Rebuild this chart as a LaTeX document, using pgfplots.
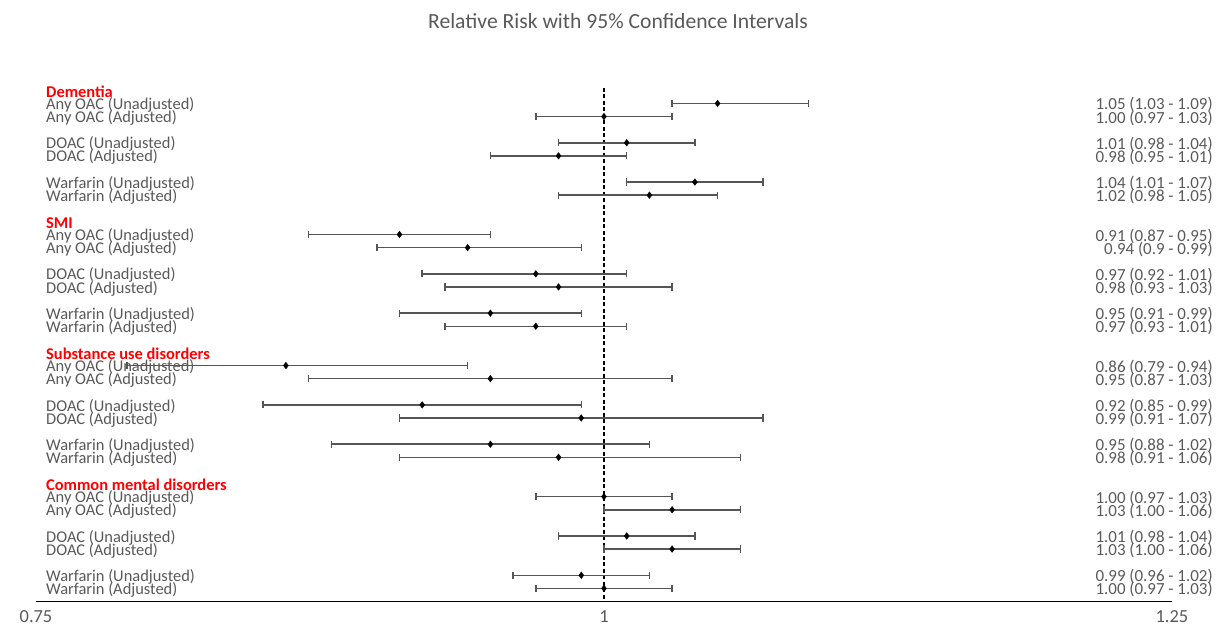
\documentclass[border=0pt]{standalone}
\usepackage{pgfplots}
\usepackage{pgfplotstable}
\pgfplotsset{compat=1.18}
\usepackage{fontspec}
\setmainfont{Carlito}
\definecolor{txtgray}{HTML}{595959}
\definecolor{bargray}{HTML}{555555}
\tikzset{
  lab/.style={font=\fontsize{16.5}{16}\selectfont, text=txtgray, inner sep=0pt, yshift=-1.5bp},
  rlab/.style={font=\fontsize{17}{16}\selectfont, text=txtgray, inner sep=0pt, yshift=-1.5bp},
  hdr/.style={font=\fontsize{16.5}{16}\selectfont\bfseries, text=red, inner sep=0pt},
}

\pgfplotstableread{
s rr lo hi
1 1.05 1.03 1.09
2 1.00 0.97 1.03
4 1.01 0.98 1.04
5 0.98 0.95 1.01
7 1.04 1.01 1.07
8 1.02 0.98 1.05
11 0.91 0.87 0.95
12 0.94 0.90 0.99
14 0.97 0.92 1.01
15 0.98 0.93 1.03
17 0.95 0.91 0.99
18 0.97 0.93 1.01
21 0.86 0.79 0.94
22 0.95 0.87 1.03
24 0.92 0.85 0.99
25 0.99 0.91 1.07
27 0.95 0.88 1.02
28 0.98 0.91 1.06
31 1.00 0.97 1.03
32 1.03 1.00 1.06
34 1.01 0.98 1.04
35 1.03 1.00 1.06
37 0.99 0.96 1.02
38 1.00 0.97 1.03
}\rrdata

\newcommand\Lab[2]{\node[lab,anchor=west] at (axis cs:0.7544,#1) {#2};}
\newcommand\Rab[2]{\node[rlab,anchor=east] at (axis cs:1.2680,#1) {#2};}
\newcommand\Hdr[2]{\node[hdr,anchor=west] at (axis cs:0.7544,#1) {#2};}

\begin{document}
\begin{tikzpicture}
\useasboundingbox (0,0) rectangle (1221bp,635bp);
\node[font=\fontsize{21.7}{24}\selectfont, text=txtgray] at (618bp,614bp) {Relative Risk with 95\% Confidence Intervals};
\begin{axis}[
  at={(36bp,33.5bp)}, anchor=south west,
  scale only axis, width=1136bp, height=513.8bp,
  xmin=0.75, xmax=1.25, ymin=-0.2, ymax=39, y dir=reverse,
  clip=false,
  hide y axis,
  axis x line*=bottom,
  x axis line style={-, black, line width=1.4bp},
  xtick={0.75,1,1.25}, xticklabels={0.75,1,1.25},
  major tick length=0pt,
  xticklabel style={font=\fontsize{18.5}{20}\selectfont, text=txtgray, yshift=-6bp},
  ytick=\empty,
]
\addplot[black, line width=1.4bp, dash pattern=on 4bp off 2.5bp] coordinates {(1,-0.2) (1,39)};
\addplot[only marks, mark=diamond*, mark size=3.3bp, black,
  error bars/.cd, x dir=both, x explicit,
  error bar style={bargray, line width=1.5bp},
  error mark options={bargray, line width=1.5bp, mark size=3.6bp, rotate=90}]
  table[x=rr, y=s, x error plus expr=\thisrow{hi}-\thisrow{rr}, x error minus expr=\thisrow{rr}-\thisrow{lo}] {\rrdata};

\Hdr{0.1}{Dementia}
\Lab{1}{Any OAC (Unadjusted)}
\Lab{2}{Any OAC (Adjusted)}
\Lab{4}{DOAC (Unadjusted)}
\Lab{5}{DOAC (Adjusted)}
\Lab{7}{Warfarin (Unadjusted)}
\Lab{8}{Warfarin (Adjusted)}
\Hdr{10.1}{SMI}
\Lab{11}{Any OAC (Unadjusted)}
\Lab{12}{Any OAC (Adjusted)}
\Lab{14}{DOAC (Unadjusted)}
\Lab{15}{DOAC (Adjusted)}
\Lab{17}{Warfarin (Unadjusted)}
\Lab{18}{Warfarin (Adjusted)}
\Hdr{20.1}{Substance use disorders}
\Lab{21}{Any OAC (Unadjusted)}
\Lab{22}{Any OAC (Adjusted)}
\Lab{24}{DOAC (Unadjusted)}
\Lab{25}{DOAC (Adjusted)}
\Lab{27}{Warfarin (Unadjusted)}
\Lab{28}{Warfarin (Adjusted)}
\Hdr{30.1}{Common mental disorders}
\Lab{31}{Any OAC (Unadjusted)}
\Lab{32}{Any OAC (Adjusted)}
\Lab{34}{DOAC (Unadjusted)}
\Lab{35}{DOAC (Adjusted)}
\Lab{37}{Warfarin (Unadjusted)}
\Lab{38}{Warfarin (Adjusted)}

\Rab{1}{1.05 (1.03 - 1.09)}
\Rab{2}{1.00 (0.97 - 1.03)}
\Rab{4}{1.01 (0.98 - 1.04)}
\Rab{5}{0.98 (0.95 - 1.01)}
\Rab{7}{1.04 (1.01 - 1.07)}
\Rab{8}{1.02 (0.98 - 1.05)}
\Rab{11}{0.91 (0.87 - 0.95)}
\Rab{12}{0.94 (0.9 - 0.99)}
\Rab{14}{0.97 (0.92 - 1.01)}
\Rab{15}{0.98 (0.93 - 1.03)}
\Rab{17}{0.95 (0.91 - 0.99)}
\Rab{18}{0.97 (0.93 - 1.01)}
\Rab{21}{0.86 (0.79 - 0.94)}
\Rab{22}{0.95 (0.87 - 1.03)}
\Rab{24}{0.92 (0.85 - 0.99)}
\Rab{25}{0.99 (0.91 - 1.07)}
\Rab{27}{0.95 (0.88 - 1.02)}
\Rab{28}{0.98 (0.91 - 1.06)}
\Rab{31}{1.00 (0.97 - 1.03)}
\Rab{32}{1.03 (1.00 - 1.06)}
\Rab{34}{1.01 (0.98 - 1.04)}
\Rab{35}{1.03 (1.00 - 1.06)}
\Rab{37}{0.99 (0.96 - 1.02)}
\Rab{38}{1.00 (0.97 - 1.03)}
\end{axis}
\end{tikzpicture}
\end{document}
